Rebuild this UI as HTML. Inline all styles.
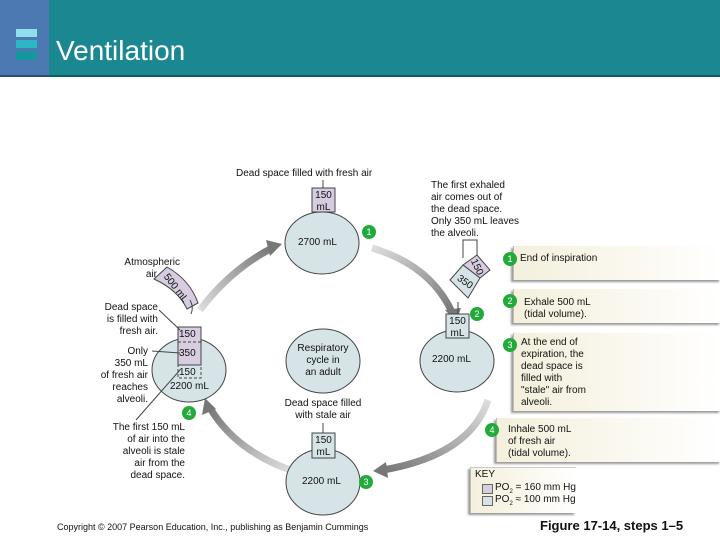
<!DOCTYPE html>
<html><head><meta charset="utf-8"><style>
body{margin:0;width:720px;height:540px;overflow:hidden;background:#fff;font-family:"Liberation Sans",sans-serif;position:relative}
.t{position:absolute;font-size:10px;color:#111;line-height:12px;z-index:2}
.step{position:absolute;background:linear-gradient(90deg,#f4f0dc,#fff);box-shadow:-2px 2px 2px #999;border-left:1px solid #bbb;z-index:0}
svg{z-index:1}
</style></head><body>
<div style="position:absolute;left:0;top:0;width:720px;height:75px;background:#1b8891;border-bottom:2px solid #0d5d63"></div>
<div style="position:absolute;left:0;top:0;width:49px;height:75px;background:#4d79b2;border-bottom:2px solid #2b4d7a"></div>
<div style="position:absolute;left:16px;top:29px;width:21px;height:8px;background:#8fe0ea"></div>
<div style="position:absolute;left:16px;top:40px;width:21px;height:8px;background:#2bb8c4"></div>
<div style="position:absolute;left:16px;top:51px;width:21px;height:9px;background:#16969f"></div>
<div style="position:absolute;left:56px;top:35px;color:#fff;font-size:28px">Ventilation</div>

<div class="step" style="left:513px;top:246px;width:207px;height:34px"></div>
<div class="step" style="left:513px;top:289px;width:207px;height:34px"></div>
<div class="step" style="left:513px;top:333px;width:207px;height:78px"></div>
<div class="step" style="left:496px;top:418px;width:224px;height:44px"></div>
<div class="step" style="left:470px;top:467px;width:105px;height:45px;border-top:1px solid #ccc"></div>

<svg style="position:absolute;left:0;top:0" width="720" height="540">
<defs>
<linearGradient id="g1" x1="0" y1="1" x2="1" y2="0"><stop offset="0" stop-color="#ddd"/><stop offset="1" stop-color="#777"/></linearGradient>
<linearGradient id="g2" x1="0" y1="0" x2="1" y2="1"><stop offset="0" stop-color="#ddd"/><stop offset="1" stop-color="#777"/></linearGradient>
<linearGradient id="g3" x1="0" y1="1" x2="1" y2="0"><stop offset="0" stop-color="#777"/><stop offset="1" stop-color="#ddd"/></linearGradient>
<linearGradient id="g4" x1="1" y1="1" x2="0" y2="0"><stop offset="0" stop-color="#ddd"/><stop offset="1" stop-color="#777"/></linearGradient>
</defs>
<g fill="none" stroke-width="7">
<path d="M200 310 Q230 270 272 248" stroke="url(#g1)"/>
<path d="M372 248 Q430 265 452 312" stroke="url(#g2)"/>
<path d="M488 400 Q470 455 383 470" stroke="url(#g3)"/>
<path d="M290 470 Q235 450 210 408" stroke="url(#g4)"/>
</g>
<g fill="#777">
<polygon points="282,244 266,240 270,256"/>
<polygon points="456,322 445,310 461,308"/>
<polygon points="373,471 386,462 388,478"/>
<polygon points="205,398 202,415 216,409"/>
</g>
<g fill="#d6e4e8" stroke="#444" stroke-width="1">
<ellipse cx="322" cy="243" rx="37" ry="31"/>
<ellipse cx="189" cy="370" rx="37" ry="32"/>
<ellipse cx="323" cy="361" rx="37" ry="32"/>
<ellipse cx="323" cy="482" rx="37" ry="33"/>
<ellipse cx="457" cy="361" rx="37" ry="31"/>
</g>
<g stroke="#444" stroke-width="1">
<rect x="312" y="188" width="23" height="24" fill="#d7cce0"/>
<rect x="178" y="327" width="23" height="38" fill="#d7cce0"/>
<line x1="178" y1="342" x2="201" y2="342" stroke-dasharray="3,2"/>
<rect x="178" y="365" width="23" height="13" fill="none" stroke-dasharray="3,2"/>
<rect x="312" y="433" width="23" height="25" fill="#d6e4e8"/>
<rect x="446" y="314" width="23" height="24" fill="#d6e4e8"/>
<path d="M167 267 Q190 280 198 303 L187 309 Q178 290 154 279Z" fill="#d7cce0"/>
<path d="M463 265 L477 255 L490 270 L480 278Z" fill="#d7cce0"/>
<path d="M450 280 L463 265 L480 278 L468 298Z" fill="#d6e4e8"/>
<line x1="323" y1="180" x2="323" y2="188"/>
<line x1="323" y1="423" x2="323" y2="433"/>
<polyline points="463,258 463,240 477,240 477,256" fill="none"/>
<line x1="159" y1="310" x2="180" y2="330"/>
<line x1="152" y1="351" x2="180" y2="353"/>
<line x1="136" y1="420" x2="180" y2="370"/>
<path d="M190 300 Q194 307 191 314" fill="none"/>
<line x1="458" y1="314" x2="458" y2="302"/>
</g>
<g fill="#22aa3a">
<circle cx="369" cy="232" r="7"/><circle cx="510" cy="259" r="7"/>
<circle cx="477" cy="314" r="7"/><circle cx="510" cy="301" r="7"/>
<circle cx="510" cy="345" r="7"/><circle cx="189" cy="413" r="7"/>
<circle cx="492" cy="430" r="7"/><circle cx="366" cy="482" r="7"/>
</g>
<g fill="#fff" font-size="9" text-anchor="middle" font-family="Liberation Sans">
<text x="369" y="235">1</text><text x="510" y="262">1</text><text x="477" y="317">2</text><text x="510" y="304">2</text>
<text x="510" y="348">3</text><text x="189" y="416">4</text><text x="492" y="433">4</text><text x="366" y="485">3</text>
</g>
<g font-size="10" font-family="Liberation Sans" fill="#111" text-anchor="middle">
<text x="176" y="291" transform="rotate(52 176 288)">500 mL</text>
<text x="477" y="270" transform="rotate(65 477 267)">150</text>
<text x="465" y="285" transform="rotate(35 465 282)">350</text>
</g>
</svg>

<div class="t" style="left:100px;top:257px;text-align:right;width:80px">Atmospheric</div>
<div class="t" style="left:100px;top:269px;text-align:right;width:57px">air</div>
<div class="t" style="left:236px;top:168px">Dead space filled with fresh air</div>
<div class="t" style="left:312px;top:190px;width:23px;text-align:center">150<br>mL</div>
<div class="t" style="left:298px;top:237px">2700 mL</div>
<div class="t" style="left:431px;top:180px">The first exhaled<br>air comes out of<br>the dead space.<br>Only 350 mL leaves<br>the alveoli.</div>
<div class="t" style="left:90px;top:302px;text-align:right;width:68px">Dead space<br>is filled with<br>fresh air.</div>
<div class="t" style="left:179px;top:329px">150</div>
<div class="t" style="left:179px;top:348px">350</div>
<div class="t" style="left:179px;top:367px">150</div>
<div class="t" style="left:170px;top:381px">2200 mL</div>
<div class="t" style="left:80px;top:346px;text-align:right;width:68px">Only<br>350 mL<br>of fresh air<br>reaches<br>alveoli.</div>
<div class="t" style="left:95px;top:422px;text-align:right;width:90px">The first 150 mL<br>of air into the<br>alveoli is stale<br>air from the<br>dead space.</div>
<div class="t" style="left:285px;top:343px;width:76px;text-align:center">Respiratory<br>cycle in<br>an adult</div>
<div class="t" style="left:270px;top:398px;width:106px;text-align:center">Dead space filled<br>with stale air</div>
<div class="t" style="left:312px;top:435px;width:23px;text-align:center">150<br>mL</div>
<div class="t" style="left:302px;top:476px">2200 mL</div>
<div class="t" style="left:446px;top:316px;width:23px;text-align:center">150<br>mL</div>
<div class="t" style="left:432px;top:354px">2200 mL</div>
<div class="t" style="left:520px;top:253px">End of inspiration</div>
<div class="t" style="left:524px;top:297px">Exhale 500 mL<br>(tidal volume).</div>
<div class="t" style="left:521px;top:337px">At the end of<br>expiration, the<br>dead space is<br>filled with<br>"stale" air from<br>alveoli.</div>
<div class="t" style="left:508px;top:424px">Inhale 500 mL<br>of fresh air<br>(tidal volume).</div>
<div class="t" style="left:475px;top:469px">KEY</div>
<div style="position:absolute;left:482px;top:484px;width:9px;height:8px;background:#d7cce0;border:1px solid #666;z-index:2"></div>
<div style="position:absolute;left:482px;top:496px;width:9px;height:8px;background:#d6e4e8;border:1px solid #666;z-index:2"></div>
<div class="t" style="left:495px;top:482px">PO<sub style="font-size:6px">2</sub> = 160 mm Hg</div>
<div class="t" style="left:495px;top:494px">PO<sub style="font-size:6px">2</sub> ≈ 100 mm Hg</div>
<div class="t" style="left:57px;top:521px;font-size:9px">Copyright © 2007 Pearson Education, Inc., publishing as Benjamin Cummings</div>
<div class="t" style="left:540px;top:518px;font-size:13px;font-weight:bold;line-height:16px">Figure 17-14, steps 1–5</div>
</body></html>
